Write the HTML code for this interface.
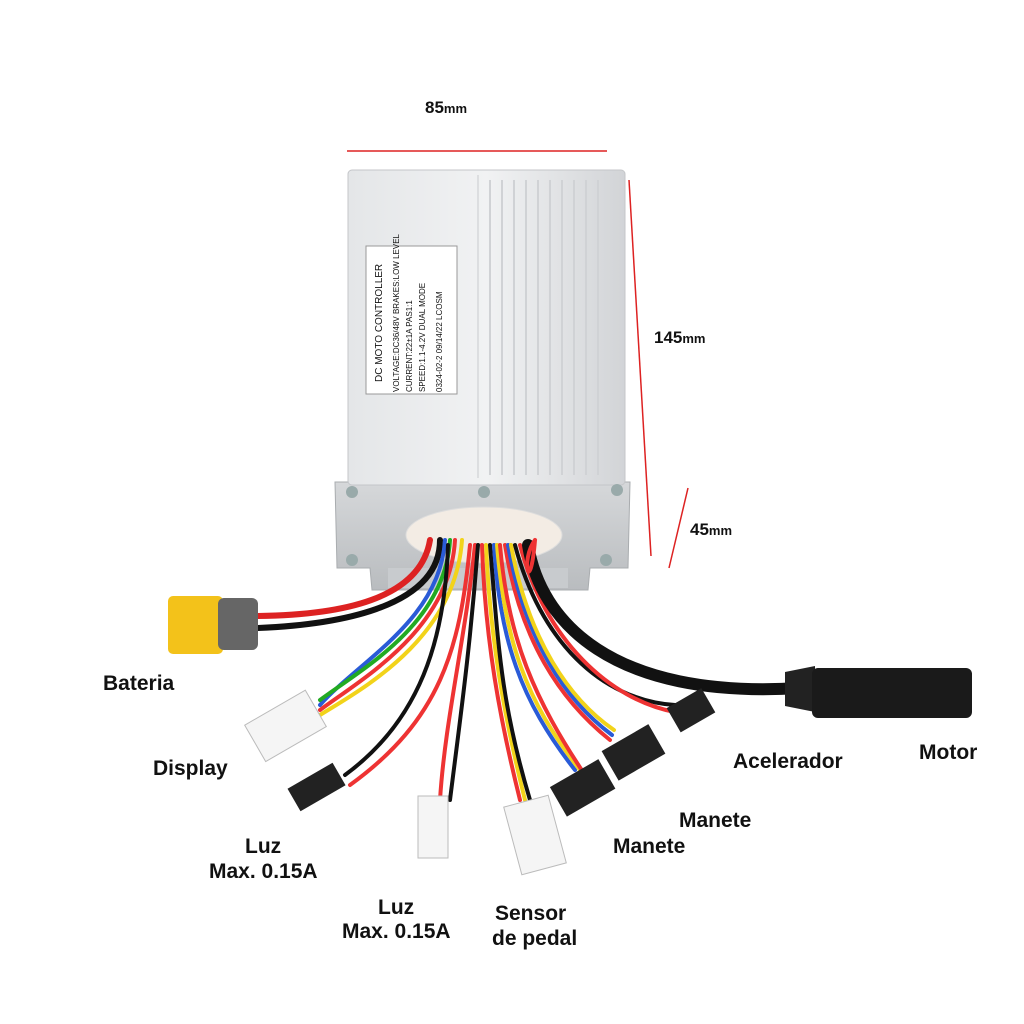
<!DOCTYPE html>
<html><head><meta charset="utf-8"><style>
html,body{margin:0;padding:0;background:#fff;width:1024px;height:1024px;overflow:hidden}
svg{display:block}
text{font-family:"Liberation Sans",sans-serif;font-weight:bold;fill:#111}
</style></head><body>
<svg width="1024" height="1024" viewBox="0 0 1024 1024">
<defs>
<linearGradient id="bx" x1="0" x2="1"><stop offset="0" stop-color="#e4e6e8"/><stop offset="0.5" stop-color="#f1f2f3"/><stop offset="1" stop-color="#d2d4d7"/></linearGradient>
<linearGradient id="pl" x1="0" x2="0" y1="0" y2="1"><stop offset="0" stop-color="#d6d8da"/><stop offset="1" stop-color="#b9bcbf"/></linearGradient>
</defs>
<line x1="347" y1="151" x2="607" y2="151" stroke="#d22" stroke-width="1.5"/>
<line x1="629" y1="180" x2="651" y2="556" stroke="#d22" stroke-width="1.5"/>
<line x1="688" y1="488" x2="669" y2="568" stroke="#d22" stroke-width="1.5"/>
<text x="425" y="113" font-size="17">85<tspan font-size="13">mm</tspan></text>
<text x="654" y="343" font-size="17">145<tspan font-size="13">mm</tspan></text>
<text x="690" y="535" font-size="17">45<tspan font-size="13">mm</tspan></text>
<path d="M335 482 L630 482 L628 568 L590 568 L588 590 L372 590 L370 568 L337 568 Z" fill="url(#pl)" stroke="#a9acaf"/>
<rect x="388" y="568" width="180" height="20" fill="#c8cbce"/>
<rect x="348" y="170" width="277" height="315" rx="4" fill="url(#bx)" stroke="#c4c6c9"/>
<g stroke="#d0d2d5" stroke-width="2">
<line x1="490" y1="180" x2="490" y2="475"/><line x1="502" y1="180" x2="502" y2="475"/><line x1="514" y1="180" x2="514" y2="475"/><line x1="526" y1="180" x2="526" y2="475"/><line x1="538" y1="180" x2="538" y2="475"/><line x1="550" y1="180" x2="550" y2="475"/><line x1="562" y1="180" x2="562" y2="475"/><line x1="574" y1="180" x2="574" y2="475"/><line x1="586" y1="180" x2="586" y2="475"/><line x1="598" y1="180" x2="598" y2="475"/>
</g>
<line x1="478" y1="175" x2="478" y2="478" stroke="#c9cbce"/>
<rect x="366" y="246" width="91" height="148" fill="#fff" stroke="#999"/>
<g transform="translate(382,392) rotate(-90)" font-size="8">
<text x="10" y="0" font-size="10" style="font-weight:normal">DC MOTO CONTROLLER</text>
<text x="0" y="17" style="font-weight:normal">VOLTAGE:DC36/48V  BRAKES:LOW LEVEL</text>
<text x="0" y="30" style="font-weight:normal">CURRENT:22±1A      PAS1:1</text>
<text x="0" y="43" style="font-weight:normal">SPEED:1.1-4.2V DUAL MODE</text>
<text x="0" y="60" style="font-weight:normal">0324-02-2  09/14/22  LCOSM</text>
</g>
<circle cx="352" cy="492" r="6" fill="#9aa"/><circle cx="617" cy="490" r="6" fill="#9aa"/><circle cx="484" cy="492" r="6" fill="#9aa"/><circle cx="352" cy="560" r="6" fill="#9aa"/><circle cx="606" cy="560" r="6" fill="#9aa"/>
<ellipse cx="484" cy="535" rx="78" ry="28" fill="#f3ece4" stroke="#ddd"/>
<g fill="none" stroke-linecap="round">
<path d="M430 540 C420 600 340 615 258 616" stroke="#d22" stroke-width="6"/>
<path d="M440 540 C440 610 330 625 258 628" stroke="#111" stroke-width="6"/>
<path d="M445 540 C440 620 360 660 320 705" stroke="#2a5bd7" stroke-width="4"/>
<path d="M450 540 C445 625 360 670 320 700" stroke="#2a2" stroke-width="4"/>
<path d="M455 540 C450 630 360 680 320 710" stroke="#e33" stroke-width="4"/>
<path d="M462 540 C455 640 360 690 320 715" stroke="#f2d31a" stroke-width="4"/>
<path d="M448 545 C445 640 420 720 345 775" stroke="#111" stroke-width="4"/>
<path d="M470 545 C460 650 440 720 350 785" stroke="#e33" stroke-width="4"/>
<path d="M475 545 C465 640 445 720 440 800" stroke="#e33" stroke-width="4"/>
<path d="M478 545 C470 650 460 720 450 800" stroke="#111" stroke-width="4"/>
<path d="M482 545 C485 640 500 720 520 800" stroke="#e33" stroke-width="4"/>
<path d="M486 545 C490 640 505 720 525 800" stroke="#f2d31a" stroke-width="4"/>
<path d="M490 545 C498 640 500 700 530 800" stroke="#111" stroke-width="4"/>
<path d="M494 545 C500 640 520 700 575 770" stroke="#2a5bd7" stroke-width="4"/>
<path d="M497 545 C505 640 525 700 580 770" stroke="#f2d31a" stroke-width="4"/>
<path d="M500 545 C508 640 535 700 585 775" stroke="#e33" stroke-width="4"/>
<path d="M505 545 C520 640 560 700 610 740" stroke="#e33" stroke-width="4"/>
<path d="M508 545 C525 640 565 700 612 735" stroke="#2a5bd7" stroke-width="4"/>
<path d="M511 545 C528 640 570 700 614 730" stroke="#f2d31a" stroke-width="4"/>
<path d="M515 545 C540 640 600 700 675 705" stroke="#111" stroke-width="4"/>
<path d="M520 545 C545 640 610 700 675 712" stroke="#e33" stroke-width="4"/>
<path d="M528 545 C540 620 610 700 800 688" stroke="#111" stroke-width="12"/>
<path d="M535 540 C530 600 520 560 535 540" stroke="#e33" stroke-width="4"/>
</g>
<rect x="168" y="596" width="55" height="58" rx="5" fill="#f3c21a"/>
<rect x="218" y="598" width="40" height="52" rx="6" fill="#666"/>
<g transform="rotate(-30 285 725)"><rect x="250" y="705" width="70" height="42" fill="#f5f5f5" stroke="#bbb"/></g>
<g transform="rotate(-30 320 785)"><rect x="290" y="772" width="52" height="26" fill="#222"/></g>
<rect x="418" y="796" width="30" height="62" fill="#f5f5f5" stroke="#bbb"/>
<g transform="rotate(-15 535 835)"><rect x="512" y="800" width="46" height="70" fill="#f5f5f5" stroke="#bbb"/></g>
<g transform="rotate(-30 585 790)"><rect x="556" y="770" width="56" height="34" fill="#222"/></g>
<g transform="rotate(-30 635 755)"><rect x="608" y="735" width="54" height="34" fill="#222"/></g>
<g transform="rotate(-30 692 712)"><rect x="672" y="696" width="40" height="28" fill="#222"/></g>
<path d="M785 672 L815 666 L815 712 L785 706 Z" fill="#222"/>
<rect x="812" y="668" width="160" height="50" rx="6" fill="#1a1a1a"/>
<g font-size="21">
<text x="103" y="690">Bateria</text>
<text x="153" y="775">Display</text>
<text x="245" y="853">Luz</text>
<text x="209" y="878">Max. 0.15A</text>
<text x="378" y="914">Luz</text>
<text x="342" y="938">Max. 0.15A</text>
<text x="495" y="920">Sensor</text>
<text x="492" y="945">de pedal</text>
<text x="613" y="853">Manete</text>
<text x="679" y="827">Manete</text>
<text x="733" y="768">Acelerador</text>
<text x="919" y="759">Motor</text>
</g>
</svg>
</body></html>
